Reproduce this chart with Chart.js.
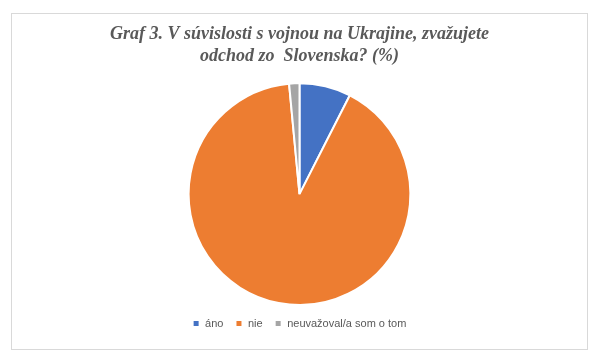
<!DOCTYPE html>
<html>
<head>
<meta charset="utf-8">
<script src="https://cdn.jsdelivr.net/npm/chart.js@4"></script>
<style>
  body { margin: 0; background: #fff; }
  #box { position: absolute; left: 11px; top: 13px; width: 575px; height: 335px; border: 1px solid #d9d9d9; }
</style>
</head>
<body>
<div id="box"><canvas id="myChart" width="575" height="335"></canvas></div>
<script>
'use strict'

// data (percent)
const labels = ['áno', 'nie', 'neuvažoval/a som o tom'];
const values = [7.5, 91, 1.5];
const colors = ['#4472c4', '#ed7d31', '#a5a5a5'];
const titleLines = ['Graf 3. V súvislosti s vojnou na Ukrajine, zvažujete', 'odchod zo  Slovenska? (%)'];

let ctx = document.getElementById('myChart').getContext('2d');
let myChart = new Chart(ctx, {
  type: 'pie',
  data: {
    labels: labels,
    datasets: [{
      data: values,
      backgroundColor: colors,
      borderColor: '#ffffff',
      borderWidth: 2
    }]
  },
  options: {
    responsive: false,
    animation: false,
    layout: { padding: { top: 0, bottom: 10 } },
    plugins: {
      title: {
        display: true,
        text: titleLines,
        color: '#595959',
        font: { family: 'Liberation Serif', size: 18, weight: 'bold', style: 'italic', lineHeight: 1.2 },
        padding: { top: 10, bottom: 15 }
      },
      legend: {
        position: 'bottom',
        labels: {
          boxWidth: 7,
          boxHeight: 7,
          color: '#595959',
          font: { family: 'Liberation Sans', size: 11 },
          padding: 12
        }
      },
      tooltip: { enabled: false }
    }
  }
});
</script>
</body>
</html>
